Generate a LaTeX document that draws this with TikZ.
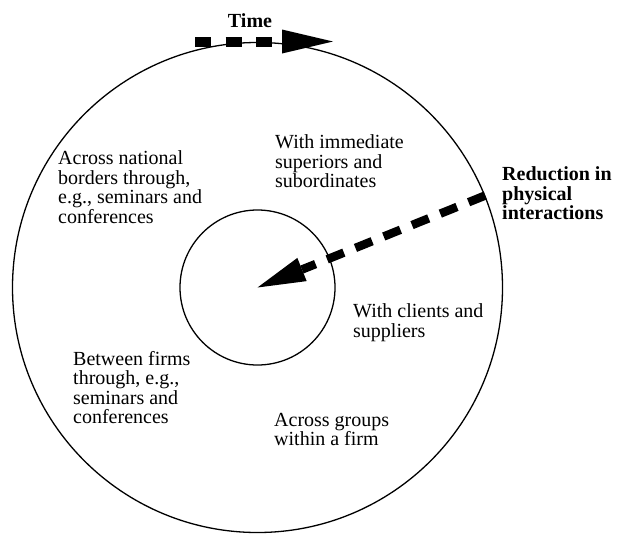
\documentclass[tikz,border=0pt]{standalone}
\usepackage{fontspec}
\setmainfont{Liberation Serif}
\usetikzlibrary{arrows.meta}

\begin{document}
\begin{tikzpicture}[x=1pt,y=-1pt,
  t/.style={align=left,anchor=north west,inner sep=0pt,font=\fontsize{20}{19.5}\selectfont},
  tb/.style={t,font=\fontsize{20}{19.5}\selectfont\bfseries},
  ring/.style={draw,circle,line width=1.3pt,inner sep=0pt}]
\useasboundingbox (0,0) rectangle (618,533);
\node[ring,minimum size=490pt] (outer) at (257.5,287.5) {};
\node[ring,minimum size=155pt] (inner) at (257.5,287.5) {};
% labels
\node[tb,anchor=base] (time) at (250,27) {Time};
\node[t] (sup) at (275,134.5) {With immediate\\superiors and\\subordinates};
\node[t] (nat) at (58,150.5) {Across national\\borders through,\\e.g., seminars and\\conferences};
\node[tb] (red) at (502,166.5) {Reduction in\\physical\\interactions};
\node[t] (cli) at (353,303.5) {With clients and\\suppliers};
\node[t] (btw) at (73,351) {Between firms\\through, e.g.,\\seminars and\\conferences};
\node[t] (grp) at (274,413) {Across groups\\within a firm};
% arrows
\coordinate (t0) at (195,41.5);
\coordinate (t1) at (333,41.5);
\draw[line width=10pt,dash pattern=on 16pt off 14.5pt,-{Triangle[length=51pt,width=24pt,line width=0pt 0 0]}] (t0)--(t1);
\draw[line width=8.5pt,dash pattern=on 18pt off 12.5pt,-{Triangle[length=48pt,width=25pt,line width=0pt 0 0]}] (outer.22.4)--(inner.center);
\end{tikzpicture}
\end{document}
